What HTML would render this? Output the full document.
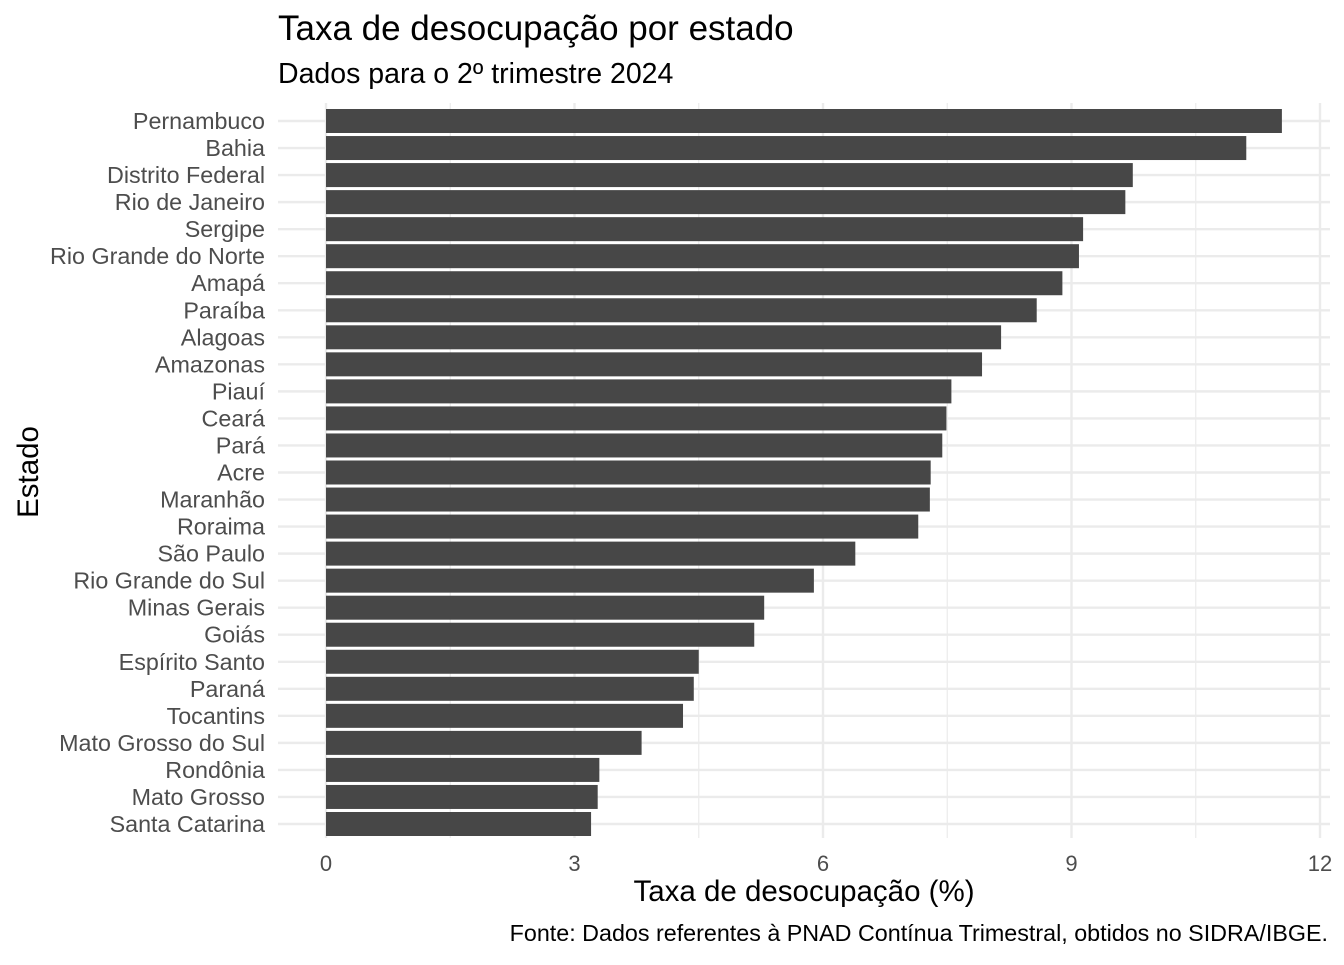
<!DOCTYPE html>
<html><head><meta charset="utf-8"><style>
body{margin:0;background:#fff;font-family:"Liberation Sans",Arial,sans-serif;}
svg text{font-family:"Liberation Sans",Arial,sans-serif;}
</style></head><body>
<svg id="chart" width="1344" height="960">
<text x="278" y="40" font-size="35" fill="#000">Taxa de desocupação por estado</text>
<text x="278" y="83" font-size="28.5" fill="#000">Dados para o 2º trimestre 2024</text>
<g id="grid"></g><g id="bars"></g><g id="ylabels"></g><g id="xlabels"></g>
<text x="804" y="901" font-size="29.5" text-anchor="middle" fill="#000">Taxa de desocupação (%)</text>
<text x="0" y="0" font-size="29.5" text-anchor="middle" fill="#000" transform="translate(38,472) rotate(-90)">Estado</text>
<text x="1328" y="941" font-size="23.3" text-anchor="end" fill="#000">Fonte: Dados referentes à PNAD Contínua Trimestral, obtidos no SIDRA/IBGE.</text>
</svg>
<script>
const categories=["Pernambuco","Bahia","Distrito Federal","Rio de Janeiro","Sergipe","Rio Grande do Norte","Amapá","Paraíba","Alagoas","Amazonas","Piauí","Ceará","Pará","Acre","Maranhão","Roraima","São Paulo","Rio Grande do Sul","Minas Gerais","Goiás","Espírito Santo","Paraná","Tocantins","Mato Grosso do Sul","Rondônia","Mato Grosso","Santa Catarina"];
const values=[11.54,11.11,9.74,9.65,9.14,9.09,8.89,8.58,8.15,7.92,7.55,7.49,7.44,7.30,7.29,7.15,6.39,5.89,5.29,5.17,4.50,4.44,4.31,3.81,3.30,3.28,3.20];
const xTicks=[0,3,6,9,12];
const xMinor=[1.5,4.5,7.5,10.5];
const NS="http://www.w3.org/2000/svg";
const x=v=>326+v*(1320-326)/12;
const y=i=>121+i*(824-121)/26;
const bh=24;
function mk(t,a,p){const e=document.createElementNS(NS,t);for(const k in a)e.setAttribute(k,a[k]);p.appendChild(e);return e;}
const grid=document.getElementById('grid'),bars=document.getElementById('bars'),yl=document.getElementById('ylabels'),xl=document.getElementById('xlabels');
xMinor.forEach(v=>{const l=mk('line',{x1:x(v),x2:x(v),y1:103,y2:838,stroke:'#ebebeb','stroke-width':1.2},grid);

});
xTicks.forEach(v=>{const l=mk('line',{x1:x(v),x2:x(v),y1:103,y2:838,stroke:'#ebebeb','stroke-width':2.4},grid);


const t=mk('text',{x:x(v),y:871,'font-size':22,'text-anchor':'middle',fill:'#4d4d4d'},xl);t.textContent=v;

});
categories.forEach((c,i)=>{const l=mk('line',{x1:278,x2:1330,y1:y(i),y2:y(i),stroke:'#ebebeb','stroke-width':2.4},grid);


const r=mk('rect',{x:x(0),y:y(i)-bh/2,width:x(values[i])-x(0),height:bh,fill:'#474747'},bars);


const t=mk('text',{x:265,y:y(i)+8,'font-size':23.3,'text-anchor':'end',fill:'#4d4d4d'},yl);t.textContent=c;

});
</script>
</body></html>
